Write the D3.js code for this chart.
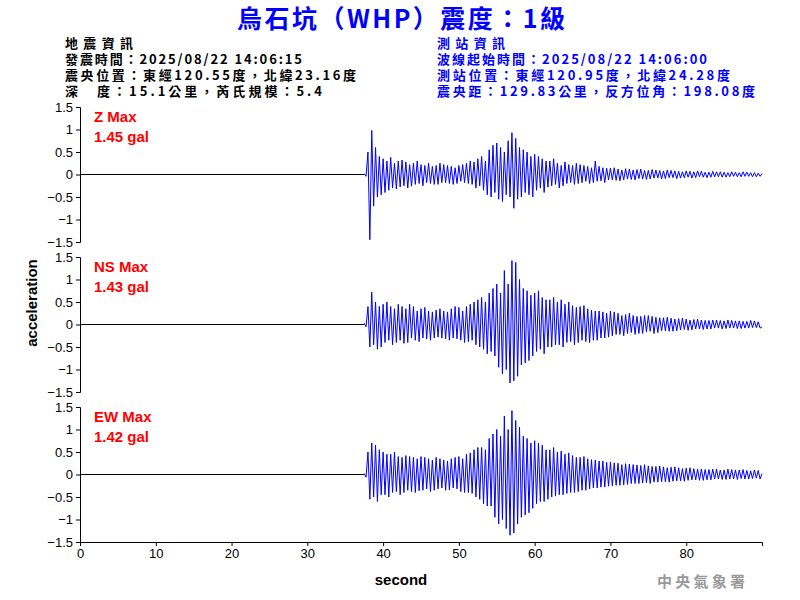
<!DOCTYPE html>
<html><head><meta charset="utf-8">
<script src="https://cdn.jsdelivr.net/npm/d3@7"></script>
<style>body{margin:0;background:#fff}</style></head>
<body><svg id="c" width="800" height="600"></svg>
<script>
const title = "烏石坑（WHP）震度：1級";
const leftInfo = ["地震資訊","發震時間：2025/08/22 14:06:15","震央位置：東經120.55度，北緯23.16度","深　度：15.1公里，芮氏規模：5.4"];
const rightInfo = ["測站資訊","波線起始時間：2025/08/22 14:06:00","測站位置：東經120.95度，北緯24.28度","震央距：129.83公里，反方位角：198.08度"];
const leftWidths = [68,237,291,257];
const rightWidths = [68,270,293,318];
const channels = ["Z Max","NS Max","EW Max"];
const maxLabels = ["1.45 gal","1.43 gal","1.42 gal"];
const yTicks = [1.5,1,0.5,0,-0.5,-1,-1.5];
const xTicks = [0,10,20,30,40,50,60,70,80];
const traceStart = 37.5, traceStep = 0.25;
const zData = [0.02,-0.04,
0.5,-1.45,0.98,-0.7, 0.6,-0.5,0.4,-0.45, 0.35,-0.4,0.3,-0.35, 0.38,-0.3,0.25,-0.32, 0.3,-0.28,0.32,-0.25,
0.28,-0.3,0.22,-0.26, 0.25,-0.22,0.3,-0.2, 0.22,-0.25,0.2,-0.18, 0.25,-0.2,0.18,-0.22, 0.2,-0.22,0.25,-0.18,
0.22,-0.18,0.2,-0.2, 0.18,-0.22,0.15,-0.2, 0.2,-0.15,0.22,-0.18, 0.25,-0.2,0.3,-0.22, 0.28,-0.3,0.35,-0.25,
0.4,-0.35,0.3,-0.45, 0.55,-0.5,0.65,-0.4, 0.7,-0.55,0.6,-0.6, 0.5,-0.45,0.75,-0.5, 0.93,-0.75,0.8,-0.55,
0.6,-0.5,0.55,-0.4, 0.5,-0.45,0.4,-0.5, 0.45,-0.35,0.4,-0.3, 0.35,-0.4,0.3,-0.28, 0.3,-0.25,0.35,-0.22,
0.25,-0.3,0.2,-0.25, 0.28,-0.2,0.22,-0.18, 0.2,-0.22,0.25,-0.2, 0.22,-0.18,0.2,-0.15, 0.18,-0.2,0.15,-0.18,
0.3,-0.15,0.18,-0.14, 0.15,-0.18,0.14,-0.12, 0.14,-0.12,0.15,-0.13, 0.12,-0.14,0.1,-0.12, 0.13,-0.1,0.12,-0.11,
0.1,-0.12,0.11,-0.09, 0.12,-0.1,0.09,-0.11, 0.09,-0.1,0.11,-0.08, 0.1,-0.08,0.09,-0.1, 0.08,-0.09,0.1,-0.07,
0.09,-0.07,0.08,-0.09, 0.07,-0.08,0.06,-0.07, 0.08,-0.06,0.07,-0.08, 0.06,-0.07,0.08,-0.05, 0.07,-0.06,0.05,-0.07,
0.05,-0.06,0.07,-0.05, 0.06,-0.05,0.06,-0.06, 0.05,-0.06,0.04,-0.05, 0.06,-0.04,0.05,-0.05, 0.04,-0.05,0.06,-0.04,
0.05,-0.04,0.04,-0.05, 0.04,-0.05,0.03,-0.04, 0.02];
const nsData = [0.03,-0.05,
0.4,-0.5,0.72,-0.45, 0.5,-0.55,0.4,-0.5, 0.45,-0.4,0.5,-0.35, 0.4,-0.45,0.35,-0.4, 0.45,-0.35,0.4,-0.42,
0.35,-0.4,0.45,-0.3, 0.4,-0.35,0.3,-0.38, 0.35,-0.3,0.38,-0.32, 0.3,-0.35,0.28,-0.3, 0.32,-0.28,0.35,-0.3,
0.3,-0.32,0.28,-0.35, 0.35,-0.3,0.4,-0.32, 0.38,-0.35,0.3,-0.4, 0.4,-0.38,0.45,-0.35, 0.5,-0.45,0.55,-0.5,
0.6,-0.55,0.5,-0.65, 0.7,-0.6,0.8,-0.7, 0.9,-0.95,0.7,-1.1, 1.2,-1.0,0.9,-1.3, 1.42,-1.25,1.38,-1.15,
1.0,-0.9,0.8,-0.85, 0.75,-0.8,0.65,-0.7, 0.7,-0.6,0.75,-0.55, 0.6,-0.65,0.55,-0.5, 0.55,-0.5,0.6,-0.45,
0.5,-0.45,0.55,-0.5, 0.45,-0.4,0.5,-0.38, 0.42,-0.45,0.38,-0.4, 0.4,-0.35,0.42,-0.38, 0.35,-0.4,0.32,-0.35,
0.3,-0.35,0.3,-0.3, 0.28,-0.3,0.25,-0.28, 0.3,-0.25,0.28,-0.22, 0.25,-0.22,0.2,-0.25, 0.22,-0.2,0.25,-0.18,
0.2,-0.22,0.18,-0.2, 0.18,-0.2,0.2,-0.16, 0.2,-0.15,0.18,-0.2, 0.16,-0.18,0.15,-0.14, 0.15,-0.14,0.16,-0.15,
0.14,-0.15,0.12,-0.14, 0.13,-0.12,0.14,-0.11, 0.12,-0.13,0.1,-0.12, 0.11,-0.1,0.12,-0.1, 0.1,-0.11,0.09,-0.1,
0.09,-0.1,0.1,-0.08, 0.1,-0.08,0.09,-0.1, 0.08,-0.09,0.1,-0.08, 0.09,-0.08,0.08,-0.09, 0.08,-0.09,0.07,-0.08,
0.07,-0.08,0.09,-0.07, 0.08,-0.07,0.06,-0.08, -0.05];
const ewData = [0.02,-0.06,
0.5,-0.55,0.7,-0.5, 0.65,-0.6,0.55,-0.45, 0.5,-0.45,0.45,-0.5, 0.45,-0.4,0.5,-0.38, 0.4,-0.45,0.38,-0.4,
0.42,-0.35,0.4,-0.38, 0.38,-0.4,0.35,-0.36, 0.4,-0.35,0.38,-0.32, 0.35,-0.38,0.32,-0.35, 0.38,-0.32,0.35,-0.3,
0.32,-0.35,0.3,-0.34, 0.35,-0.3,0.38,-0.32, 0.4,-0.38,0.35,-0.4, 0.45,-0.4,0.48,-0.42, 0.55,-0.5,0.6,-0.55,
0.6,-0.65,0.55,-0.7, 0.8,-0.7,0.9,-0.95, 1.0,-1.1,0.85,-1.0, 1.3,-1.2,1.0,-1.35, 1.42,-1.3,1.2,-1.1,
1.05,-0.95,0.85,-0.9, 0.8,-0.85,0.7,-0.75, 0.75,-0.65,0.7,-0.6, 0.65,-0.6,0.55,-0.55, 0.55,-0.5,0.6,-0.48,
0.5,-0.45,0.52,-0.45, 0.45,-0.42,0.48,-0.4, 0.42,-0.4,0.38,-0.38, 0.38,-0.35,0.4,-0.35, 0.35,-0.32,0.33,-0.3,
0.32,-0.3,0.3,-0.28, 0.3,-0.28,0.27,-0.26, 0.28,-0.25,0.26,-0.24, 0.25,-0.24,0.22,-0.23, 0.24,-0.22,0.23,-0.2,
0.22,-0.2,0.21,-0.2, 0.2,-0.19,0.22,-0.18, 0.19,-0.2,0.18,-0.17, 0.18,-0.17,0.19,-0.16, 0.17,-0.16,0.15,-0.17,
0.16,-0.15,0.17,-0.14, 0.15,-0.14,0.13,-0.15, 0.14,-0.13,0.15,-0.12, 0.13,-0.12,0.12,-0.13, 0.12,-0.13,0.11,-0.12,
0.11,-0.12,0.12,-0.1, 0.12,-0.1,0.1,-0.11, 0.1,-0.11,0.12,-0.1, 0.11,-0.1,0.1,-0.11, 0.1,-0.09,0.11,-0.1,
0.09,-0.1,0.08,-0.09, 0.1,-0.08,0.09,-0.1, 0.02];
const traces = [zData, nsData, ewData];

const svg = d3.select("#c");
const F = "Arial, 'Liberation Sans', sans-serif";
const CJK = "'Noto Sans CJK TC', sans-serif";
svg.append("text").attr("x",401).attr("y",28).attr("text-anchor","middle").attr("fill","#0000ff")
  .attr("font-family",CJK).attr("font-weight","bold").attr("font-size",25)
  .attr("textLength",328).attr("lengthAdjust","spacing").text(title);
leftInfo.forEach((t,i)=>svg.append("text").attr("x",65).attr("y",48+i*16).attr("font-family",CJK)
  .attr("font-weight","bold").attr("font-size",13).attr("fill","#000")
  .attr("textLength",leftWidths[i]).attr("lengthAdjust","spacing").text(t));
rightInfo.forEach((t,i)=>svg.append("text").attr("x",437).attr("y",48+i*16).attr("font-family",CJK)
  .attr("font-weight","bold").attr("font-size",13).attr("fill","#0000ff")
  .attr("textLength",rightWidths[i]).attr("lengthAdjust","spacing").text(t));

const x = d3.scaleLinear().domain([0,90]).range([80,762]);
const panelTops = [107,257,407];
traces.forEach((data,k)=>{
  const y = d3.scaleLinear().domain([-1.5,1.5]).range([panelTops[k]+135,panelTops[k]]);
  const g = svg.append("g");
  const ax = g.append("g").attr("transform","translate(80,0)")
    .call(d3.axisLeft(y).tickValues(yTicks).tickSize(4).tickFormat(d3.format("")));
  ax.selectAll("text").attr("font-family",F).attr("font-size",13).attr("fill","#000");
  ax.selectAll("line,path").attr("stroke","#000");
  g.append("path").attr("d",d3.line()([[x(0),y(0)],[x(traceStart),y(0)]])).attr("stroke","#000").attr("stroke-width",1);
  const pts = data.map((v,i)=>[traceStart+i*traceStep, v]);
  g.append("path").datum(pts).attr("fill","none").attr("stroke","#0000ff").attr("stroke-width",1)
    .attr("d",d3.line().x(d=>x(d[0])).y(d=>y(d[1])));
  g.append("text").attr("x",94).attr("y",panelTops[k]+15).attr("fill","#ff0000").attr("font-family",F)
    .attr("font-size",15).attr("font-weight","bold").text(channels[k]);
  g.append("text").attr("x",94).attr("y",panelTops[k]+35).attr("fill","#ff0000").attr("font-family",F)
    .attr("font-size",15).attr("font-weight","bold").text(maxLabels[k]);
});
const xa = svg.append("g").attr("transform","translate(0,542)")
  .call(d3.axisBottom(x).tickValues(xTicks).tickSize(4).tickFormat(d3.format("d")));
xa.selectAll("text").attr("font-family",F).attr("font-size",13).attr("fill","#000");
xa.selectAll("line,path").attr("stroke","#000");
svg.append("text").attr("x",401).attr("y",585).attr("text-anchor","middle").attr("font-family",F)
  .attr("font-weight","bold").attr("font-size",15).text("second");
svg.append("text").attr("transform","translate(37,303) rotate(-90)").attr("text-anchor","middle")
  .attr("font-family",F).attr("font-weight","bold").attr("font-size",15).text("acceleration");
svg.append("text").attr("x",701).attr("y",587).attr("text-anchor","middle").attr("font-family",CJK)
  .attr("font-weight","bold").attr("font-size",15).attr("fill","#999")
  .attr("textLength",88).attr("lengthAdjust","spacing").text("中央氣象署");
</script></body></html>
